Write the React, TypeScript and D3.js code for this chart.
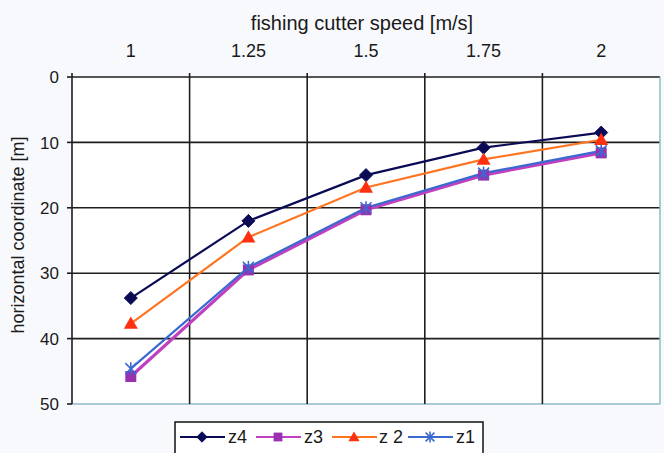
import React from "react";
import * as d3 from "d3";

const categories = ["1", "1.25", "1.5", "1.75", "2"];
const yTicks = [0, 10, 20, 30, 40, 50];
const z4 = [33.8, 22.0, 15.0, 10.8, 8.5];
const z3 = [45.8, 29.5, 20.3, 15.0, 11.6];
const z2 = [37.7, 24.5, 16.9, 12.6, 9.6];
const z1 = [44.6, 29.1, 20.0, 14.7, 11.3];

const W = 664;
const H = 453;
const FONT = "'Liberation Sans', Arial, sans-serif";

type Marker = "diamond" | "square" | "triangle" | "star";

const seriesList: { name: string; label: string; values: number[]; color: string; marker: Marker; markerColor: string }[] = [
  { name: "z4", label: "z4", values: z4, color: "#0b0b55", marker: "diamond", markerColor: "#0b0b55" },
  { name: "z3", label: "z3", values: z3, color: "#c040c0", marker: "square", markerColor: "#9a2fb0" },
  { name: "z2", label: "z 2", values: z2, color: "#ff7420", marker: "triangle", markerColor: "#ff3010" },
  { name: "z1", label: "z1", values: z1, color: "#3a6ad0", marker: "star", markerColor: "#3a6ad0" },
];

function MarkerShape({ type, x, y, color, scale = 1 }: { type: Marker; x: number; y: number; color: string; scale?: number }) {
  if (type === "diamond") {
    const s = 6.5 * scale;
    return <path d={`M${x},${y - s}L${x + s},${y}L${x},${y + s}L${x - s},${y}Z`} fill={color} stroke={color} strokeWidth={1} />;
  }
  if (type === "square") {
    const s = 5.5 * scale;
    return <rect x={x - s} y={y - s} width={2 * s} height={2 * s} fill={color} />;
  }
  if (type === "triangle") {
    const s = 7 * scale;
    return <path d={`M${x},${y - s}L${x + s},${y + s * 0.75}L${x - s},${y + s * 0.75}Z`} fill={color} />;
  }
  const s = 5.5 * scale;
  return (
    <g stroke={color} strokeWidth={1.6}>
      <line x1={x - s} y1={y - s} x2={x + s} y2={y + s} />
      <line x1={x - s} y1={y + s} x2={x + s} y2={y - s} />
      <line x1={x} y1={y - s - 1} x2={x} y2={y + s + 1} />
    </g>
  );
}

export default function App() {
  const left = 72;
  const right = 660;
  const top = 77;
  const bottom = 404;

  const x = d3.scaleBand<string>().domain(categories).range([left, right]).paddingInner(0).paddingOuter(0);
  const y = d3.scaleLinear().domain([0, 50]).range([top, bottom]);
  const cx = (c: string) => (x(c) as number) + x.bandwidth() / 2;

  const line = d3
    .line<number>()
    .x((_, i) => cx(categories[i]))
    .y((v) => y(v));

  const bandEdges = categories.map((c) => x(c) as number).concat([right]);
  const drawOrder = ["z4", "z2", "z3", "z1"];

  const legendItems = [
    { name: "z4", lx: 180, tx: 228 },
    { name: "z3", lx: 256, tx: 304 },
    { name: "z2", lx: 332, tx: 379 },
    { name: "z1", lx: 408, tx: 456 },
  ];

  return (
    <svg width={W} height={H} style={{ position: "fixed", left: 0, top: 0 }} fontFamily={FONT}>
      <rect x={0} y={0} width={W} height={H} fill="#f8f9fc" />
      <rect x={left} y={top} width={right - left} height={bottom - top} fill="#ffffff" />

      {/* horizontal gridlines */}
      {yTicks.map((t) => (
        <line
          key={"h" + t}
          x1={left}
          x2={right}
          y1={y(t)}
          y2={y(t)}
          stroke={t === 50 ? "#8fb8c8" : "#1e1e1e"}
          strokeWidth={t === 50 ? 1.5 : 1.6}
        />
      ))}
      {/* vertical gridlines */}
      {bandEdges.map((e, i) => (
        <line
          key={"v" + i}
          x1={e}
          x2={e}
          y1={top - (i === bandEdges.length - 1 ? 0 : 4)}
          y2={bottom}
          stroke={i === bandEdges.length - 1 ? "#8fb8c8" : "#1e1e1e"}
          strokeWidth={i === bandEdges.length - 1 ? 1.5 : 1.6}
        />
      ))}
      {/* y tick marks */}
      {yTicks.map((t) => (
        <line key={"yt" + t} x1={left - 5} x2={left} y1={y(t)} y2={y(t)} stroke="#1e1e1e" strokeWidth={1.6} />
      ))}
      {/* y tick labels */}
      {yTicks.map((t) => (
        <text key={"yl" + t} x={left - 13} y={y(t)} dy="0.36em" textAnchor="end" fontSize={17} fill="#1a1a1a">
          {t}
        </text>
      ))}
      {/* x tick labels (top) */}
      {categories.map((c) => (
        <text key={"xl" + c} x={cx(c)} y={57} textAnchor="middle" fontSize={18} fill="#1a1a1a">
          {c}
        </text>
      ))}
      <text x={362} y={30} textAnchor="middle" fontSize={20} fill="#1a1a1a">
        fishing cutter speed [m/s]
      </text>
      <text
        transform={`translate(24,235) rotate(-90)`}
        textAnchor="middle"
        fontSize={18}
        fill="#1a1a1a"
      >
        horizontal coordinate [m]
      </text>

      {/* series lines */}
      {drawOrder.map((n) => {
        const s = seriesList.find((d) => d.name === n)!;
        return (
          <path
            key={"l" + n}
            d={line(s.values) as string}
            fill="none"
            stroke={s.color}
            strokeWidth={n === "z3" ? 3.2 : 2.2}
          />
        );
      })}
      {/* markers */}
      {drawOrder.map((n) => {
        const s = seriesList.find((d) => d.name === n)!;
        return (
          <g key={"m" + n}>
            {s.values.map((v, i) => (
              <MarkerShape key={i} type={s.marker} x={cx(categories[i])} y={y(v)} color={s.markerColor} />
            ))}
          </g>
        );
      })}

      {/* legend */}
      <rect x={175} y={422} width={308} height={40} fill="#ffffff" stroke="#1e1e1e" strokeWidth={1.6} />
      {legendItems.map((li) => {
        const s = seriesList.find((d) => d.name === li.name)!;
        const ly = 437;
        return (
          <g key={"lg" + li.name}>
            <line x1={li.lx} x2={li.lx + 45} y1={ly} y2={ly} stroke={s.color} strokeWidth={2.2} />
            <MarkerShape type={s.marker} x={li.lx + 22} y={ly} color={s.markerColor} scale={0.8} />
            <text x={li.tx} y={ly} dy="0.36em" fontSize={18} fill="#1a1a1a">
              {s.label}
            </text>
          </g>
        );
      })}
    </svg>
  );
}
